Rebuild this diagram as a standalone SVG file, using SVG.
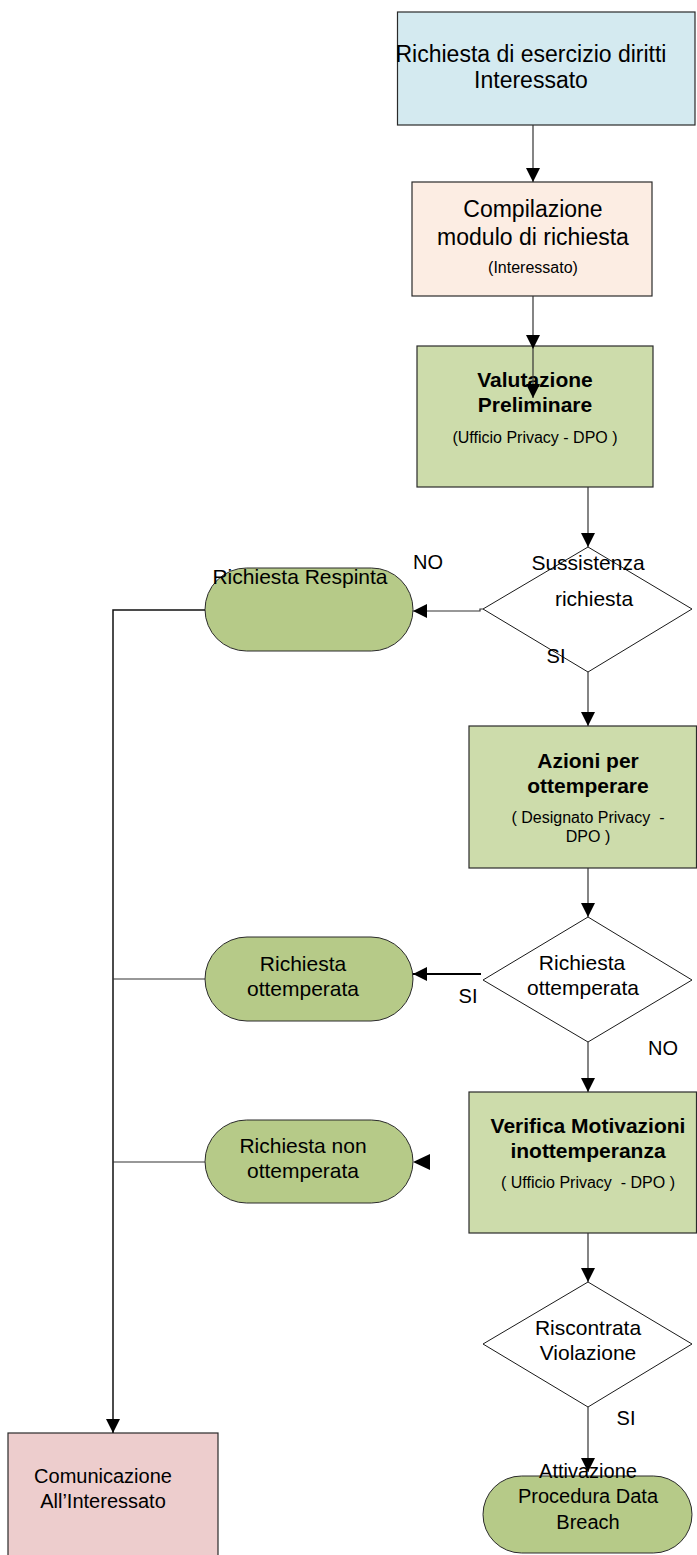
<svg xmlns="http://www.w3.org/2000/svg" width="697" height="1555" viewBox="0 0 697 1555">
<style>
text{font-family:"Liberation Sans",Arial,sans-serif;fill:#000;text-anchor:middle}
.t21{font-size:21px}
.t23{font-size:23px}
.t20{font-size:20px}
.t16{font-size:16px}
.b{font-weight:bold}
.box{stroke:#2a2a2a;stroke-width:1.2}
.dia{fill:#fff;stroke:#1a1a1a;stroke-width:1}
.term{fill:#b6ca88;stroke:#2a2a2a;stroke-width:1}
.green{fill:#cddcab}
.conn{fill:none;stroke:#333;stroke-width:1.2}
</style>
<defs>
<marker id="arr" markerUnits="userSpaceOnUse" markerWidth="14" markerHeight="14" refX="14" refY="7" orient="auto">
<path d="M0,0 L14,7 L0,14 z" fill="#000"/>
</marker>
</defs>
<rect width="697" height="1555" fill="#fff"/>

<g id="n-richiesta">
<rect class="box" x="397.5" y="12" width="297.5" height="113" fill="#d4eaf0"/>
<text class="t23" x="531" y="62">Richiesta di esercizio diritti</text>
<text class="t23" x="531" y="88">Interessato</text>
</g>

<g id="n-compilazione">
<rect class="box" x="412" y="182" width="240" height="114" fill="#fcede3"/>
<text class="t23" x="533" y="217">Compilazione</text>
<text class="t23" x="533" y="245">modulo di richiesta</text>
<text class="t16" x="533" y="273">(Interessato)</text>
</g>

<g id="n-valutazione">
<rect class="box green" x="417" y="346" width="236" height="141"/>
<text class="t21 b" x="535" y="387">Valutazione</text>
<text class="t21 b" x="535" y="412">Preliminare</text>
<text class="t16" x="535" y="443">(Ufficio Privacy - DPO )</text>
</g>

<g id="n-sussistenza">
<polygon class="dia" points="588,547 692,609 588,672 483,609"/>
<text class="t21" x="588" y="570">Sussistenza</text>
<text class="t21" x="594" y="606">richiesta</text>
</g>

<g id="n-respinta">
<rect class="term" x="205" y="568" width="208" height="83" rx="41.5" ry="41.5"/>
<text class="t21" x="300" y="584">Richiesta Respinta</text>
</g>

<g id="n-azioni">
<rect class="box green" x="469" y="726" width="227.5" height="142"/>
<text class="t21 b" x="588" y="768">Azioni per</text>
<text class="t21 b" x="588" y="793">ottemperare</text>
<text class="t16" x="588" y="823" xml:space="preserve">( Designato Privacy  -</text>
<text class="t16" x="588" y="842">DPO )</text>
</g>

<g id="n-ottemperata-dec">
<polygon class="dia" points="588,917 692,980 588,1042 483,980"/>
<text class="t21" x="582" y="970">Richiesta</text>
<text class="t21" x="583" y="995">ottemperata</text>
</g>

<g id="n-ottemperata">
<rect class="term" x="205" y="937" width="208" height="84" rx="42" ry="42"/>
<text class="t21" x="303" y="971">Richiesta</text>
<text class="t21" x="303" y="996">ottemperata</text>
</g>

<g id="n-verifica">
<rect class="box green" x="469" y="1092" width="227.5" height="141"/>
<text class="t21 b" x="588" y="1133">Verifica Motivazioni</text>
<text class="t21 b" x="588" y="1158">inottemperanza</text>
<text class="t16" x="588" y="1188" xml:space="preserve">( Ufficio Privacy  - DPO )</text>
</g>

<g id="n-non-ottemperata">
<rect class="term" x="205" y="1120" width="208" height="83" rx="41.5" ry="41.5"/>
<text class="t21" x="303" y="1153">Richiesta non</text>
<text class="t21" x="303" y="1178">ottemperata</text>
</g>

<g id="n-violazione">
<polygon class="dia" points="588,1282 692,1344 588,1407 483,1344"/>
<text class="t21" x="588" y="1335">Riscontrata</text>
<text class="t21" x="588" y="1360">Violazione</text>
</g>

<g id="n-databreach">
<rect class="term" x="483" y="1476" width="209" height="77" rx="38.5" ry="38.5"/>
<text class="t20" x="588" y="1478">Attivazione</text>
<text class="t20" x="588" y="1503">Procedura Data</text>
<text class="t20" x="588" y="1529">Breach</text>
</g>

<g id="n-comunicazione">
<rect class="box" x="8" y="1433" width="210" height="130" fill="#edcdcd"/>
<text class="t20" x="103" y="1483">Comunicazione</text>
<text class="t20" x="103" y="1508">All’Interessato</text>
</g>

<g id="connectors">
<path class="conn" d="M533,125 L533,182" marker-end="url(#arr)"/>
<path class="conn" d="M533,296 L533,349 L533,398" marker-mid="url(#arr)" marker-end="url(#arr)"/>
<path class="conn" d="M588,487 L588,547" marker-end="url(#arr)"/>
<path class="conn" d="M483,609 L480,609 L480,611 L413,611" marker-end="url(#arr)"/>
<path class="conn" d="M588,672 L588,726" marker-end="url(#arr)"/>
<path class="conn" d="M588,868 L588,917" marker-end="url(#arr)"/>
<path class="conn" d="M481,974 L413,974" stroke-width="2" style="stroke:#000;stroke-width:2" marker-end="url(#arr)"/>
<path class="conn" d="M588,1042 L588,1092" marker-end="url(#arr)"/>
<path d="M430,1154 L413,1162 L430,1170 z" fill="#000"/>
<path class="conn" d="M588,1233 L588,1282" marker-end="url(#arr)"/>
<path class="conn" d="M588,1407 L588,1472" marker-end="url(#arr)"/>
<path class="conn" d="M205,610 L113,610 L113,1433" style="stroke:#111;stroke-width:1.5" marker-end="url(#arr)"/>
<path class="conn" d="M205,979 L113,979"/>
<path class="conn" d="M205,1162 L113,1162"/>
<text class="t20" x="428" y="569">NO</text>
<text class="t20" x="556" y="663">SI</text>
<text class="t20" x="468" y="1003">SI</text>
<text class="t20" x="663" y="1055">NO</text>
<text class="t20" x="626" y="1425">SI</text>
</g>
</svg>
